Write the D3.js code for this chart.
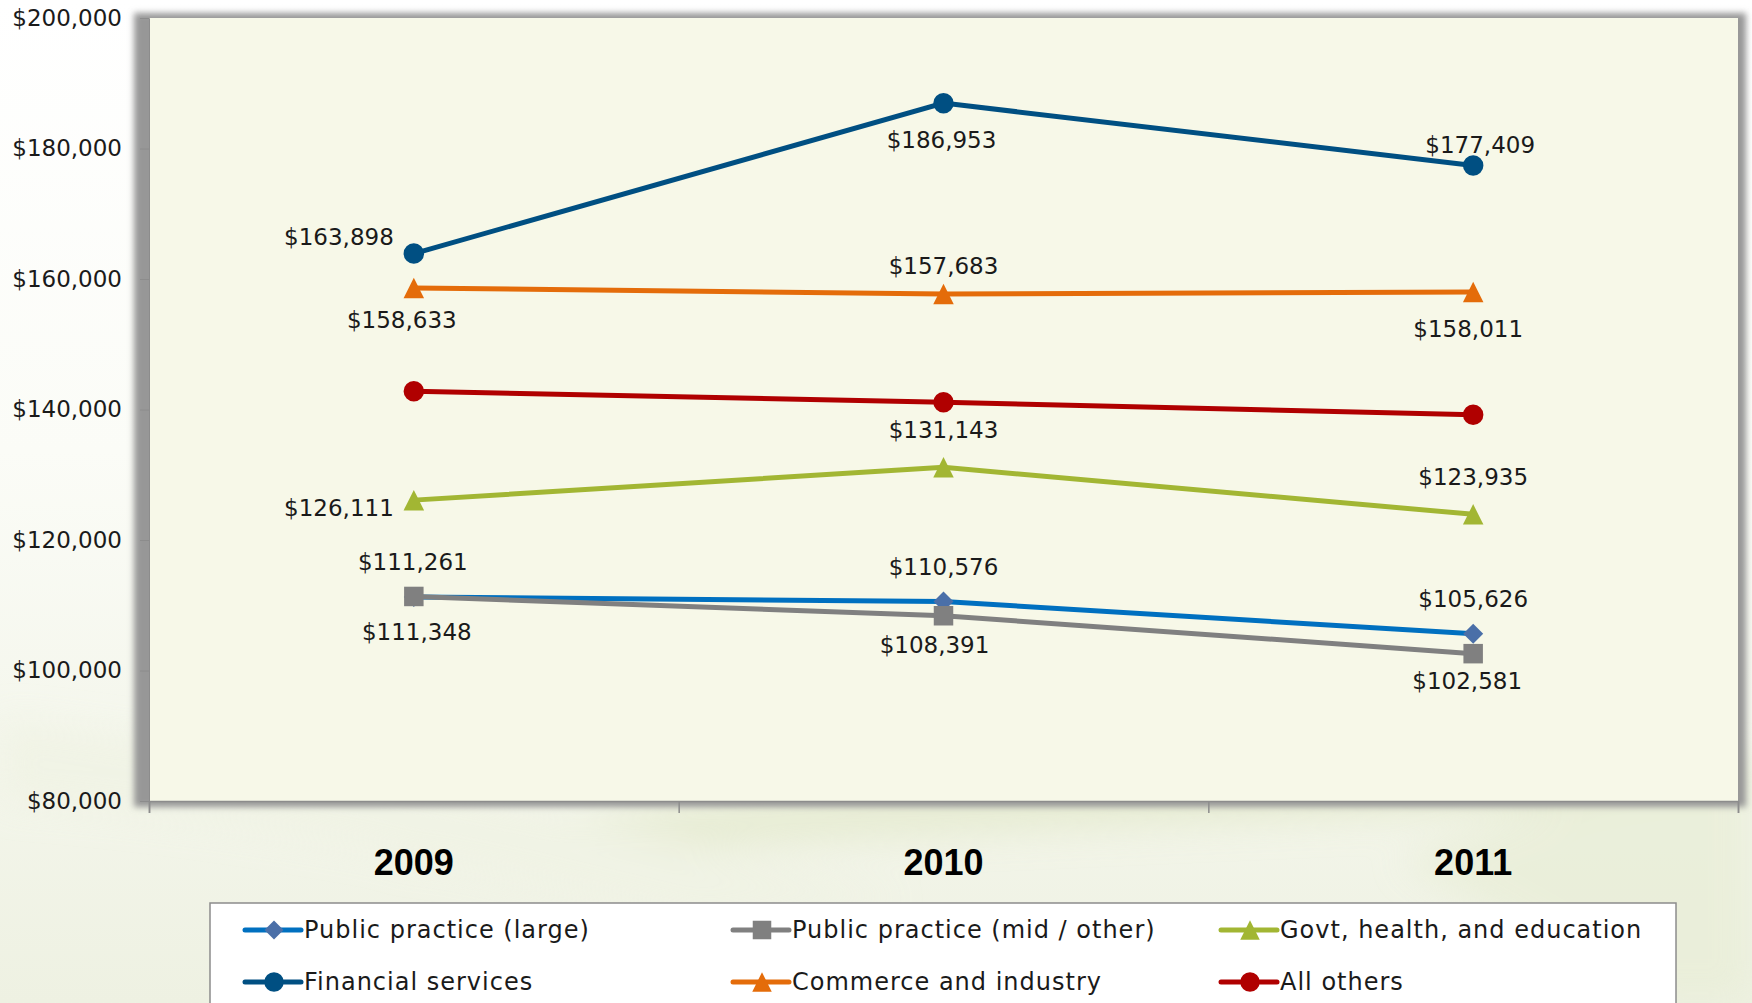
<!DOCTYPE html>
<html>
<head>
<meta charset="utf-8">
<script src="https://cdn.jsdelivr.net/npm/d3@7"></script>
<style>
  html, body { margin: 0; padding: 0; background: #fff; overflow: hidden; }
  svg { display: block; }
  text { font-family: "DejaVu Sans", Lato, sans-serif; }
</style>
</head>
<body>
<div id="chart"></div>
<script>
// data
const years = ['2009', '2010', '2011'];
const seriesNames = [
  'Public practice (large)',
  'Public practice (mid / other)',
  'Govt, health, and education',
  'Financial services',
  'Commerce and industry',
  'All others'
];
const publicLarge = [111261, 110576, 105626];
const publicMid = [111348, 108391, 102581];
const govt = [126111, 131143, 123935];
const financial = [163898, 186953, 177409];
const commerce = [158633, 157683, 158011];
const allOthers = [142800, 141100, 139200];
const yTicks = [80000, 100000, 120000, 140000, 160000, 180000, 200000];

// marker shapes, size = width in px
const diamond = { draw(ctx, s) { const r = s / 2; ctx.moveTo(0, -r); ctx.lineTo(r, 0); ctx.lineTo(0, r); ctx.lineTo(-r, 0); ctx.closePath(); } };
const square = { draw(ctx, s) { const r = s / 2; ctx.rect(-r, -r, s, s); } };
const triangle = { draw(ctx, s) { const r = s / 2; ctx.moveTo(0, -r); ctx.lineTo(r, r); ctx.lineTo(-r, r); ctx.closePath(); } };
const circle = { draw(ctx, s) { const r = s / 2; ctx.moveTo(r, 0); ctx.arc(0, 0, r, 0, 2 * Math.PI); } };

// styling per series (same order as seriesNames)
const lineColors = ['#0070c0', '#808080', '#a2b633', '#004f82', '#e46c0a', '#b00000'];
const markColors = ['#4a6fa8', '#808080', '#a2b633', '#004f82', '#e46c0a', '#b00000'];
const markShapes = [diamond, square, triangle, circle, triangle, circle];
const markSizes = [20, 19.5, 20.5, 20.5, 20.5, 20.5];
const showLabels = [true, true, true, true, true, false];
// label placement [anchor, dx, dy] relative to the point
const labelPlace = [
  [['middle', -1, -35], ['middle', 0, -35], ['middle', 0, -35]],
  [['middle', 3, 35], ['middle', -9, 29], ['middle', -6, 27]],
  [['end', -20, 8], ['middle', 0, -37], ['middle', 0, -37]],
  [['end', -20, -17], ['middle', -2, 37], ['middle', 7, -20]],
  [['middle', -12, 32], ['middle', 0, -28], ['middle', -5, 37]],
  [null, null, null]
];

const allSeries = [publicLarge, publicMid, govt, financial, commerce, allOthers];

const W = 1752, H = 1003;
const plot = { left: 149, top: 18, width: 1589, height: 783 };

const svg = d3.select('#chart').append('svg')
  .attr('width', W)
  .attr('height', H);

const defs = svg.append('defs');
defs.append('filter').attr('id', 'blur8')
  .attr('x', '-50%').attr('y', '-50%').attr('width', '200%').attr('height', '200%')
  .append('feGaussianBlur').attr('stdDeviation', 18);
defs.append('filter').attr('id', 'shadow')
  .attr('x', '-5%').attr('y', '-5%').attr('width', '110%').attr('height', '110%')
  .append('feGaussianBlur').attr('stdDeviation', 3);

const bg = defs.append('linearGradient').attr('id', 'bgGrad')
  .attr('x1', 0).attr('y1', 0).attr('x2', 0).attr('y2', 1);
bg.append('stop').attr('offset', '0%').attr('stop-color', '#ffffff');
bg.append('stop').attr('offset', '45%').attr('stop-color', '#fbfcf7');
bg.append('stop').attr('offset', '100%').attr('stop-color', '#eef1e2');

// page background with soft green swooshes
svg.append('rect').attr('width', W).attr('height', H).attr('fill', 'url(#bgGrad)');
const sw = svg.append('g').attr('filter', 'url(#blur8)').attr('opacity', 0.8);
sw.append('path')
  .attr('d', 'M 400 830 Q 1000 770 1752 760 L 1752 800 Q 1000 830 400 860 Z')
  .attr('fill', '#e3e9cc');
sw.append('path')
  .attr('d', 'M 0 720 Q 500 780 900 900 L 700 920 Q 300 820 0 800 Z')
  .attr('fill', '#f0f3e4');
sw.append('path')
  .attr('d', 'M 1400 860 Q 1600 780 1752 780 L 1752 1003 L 1650 1003 Z')
  .attr('fill', '#e9eed8');

// plot frame shadow + fill
svg.append('rect')
  .attr('x', plot.left - 15).attr('y', plot.top - 5)
  .attr('width', plot.width + 23).attr('height', plot.height + 11)
  .attr('fill', '#979797')
  .attr('filter', 'url(#shadow)');
svg.append('rect')
  .attr('x', plot.left).attr('y', plot.top)
  .attr('width', plot.width).attr('height', plot.height)
  .attr('fill', '#f7f8e8');

const g = svg.append('g').attr('transform', `translate(${plot.left},${plot.top})`);

const x = d3.scaleBand().domain(years).range([0, plot.width]).padding(0);
const xEdge = d3.scaleLinear().domain([0, years.length]).range([0, plot.width]);
const y = d3.scaleLinear().domain([80000, 200000]).range([plot.height, 0]);
const cx = d => x(d) + x.bandwidth() / 2;
const money = v => '$' + d3.format(',')(v);

// y axis
const yAxis = g.append('g')
  .call(d3.axisLeft(y).tickValues(yTicks).tickSize(9).tickPadding(18).tickFormat(money));
yAxis.select('.domain').attr('stroke', '#8c8c8c');
yAxis.selectAll('.tick line').attr('stroke', '#8c8c8c');
yAxis.selectAll('text').attr('font-size', 23).attr('fill', '#1a1a1a')
  .style('font-family', '"DejaVu Sans", sans-serif');

// x axis: ticks on category boundaries
const xAxis = g.append('g')
  .attr('transform', `translate(0,${plot.height})`)
  .call(d3.axisBottom(xEdge).tickValues(d3.range(years.length + 1)).tickSize(12).tickFormat(''));
xAxis.select('.domain').attr('stroke', '#8c8c8c').attr('stroke-width', 1.5);
xAxis.selectAll('.tick line').attr('stroke', '#8c8c8c').attr('stroke-width', 1.5);

g.selectAll('.year').data(years).join('text')
  .attr('class', 'year')
  .attr('x', d => cx(d))
  .attr('y', plot.height + 61)
  .attr('dy', '0.35em')
  .attr('text-anchor', 'middle')
  .attr('font-size', 36)
  .attr('font-weight', 'bold')
  .style('font-family', '"Liberation Sans", Arial, sans-serif')
  .attr('fill', '#000')
  .text(d => d);

const line = d3.line().x((v, i) => cx(years[i])).y(v => y(v));

allSeries.forEach((vals, s) => {
  const sg = g.append('g');
  sg.append('path')
    .attr('d', line(vals))
    .attr('fill', 'none')
    .attr('stroke', lineColors[s])
    .attr('stroke-width', 5);
  sg.selectAll('path.mark').data(vals).join('path')
    .attr('class', 'mark')
    .attr('transform', (v, i) => `translate(${cx(years[i])},${y(v)})`)
    .attr('d', d3.symbol().type(markShapes[s]).size(markSizes[s]))
    .attr('fill', markColors[s]);
});

// data labels on top
allSeries.forEach((vals, s) => {
  if (!showLabels[s]) return;
  g.append('g').selectAll('text').data(vals).join('text')
    .attr('x', (v, i) => cx(years[i]) + labelPlace[s][i][1])
    .attr('y', (v, i) => y(v) + labelPlace[s][i][2])
    .attr('dy', '0.35em')
    .attr('text-anchor', (v, i) => labelPlace[s][i][0])
    .attr('font-size', 23)
    .attr('fill', '#1a1a1a')
    .text(v => money(v));
});

// legend
const legend = svg.append('g');
legend.append('rect')
  .attr('x', 210).attr('y', 903)
  .attr('width', 1466).attr('height', 140)
  .attr('fill', '#fff')
  .attr('stroke', '#8c8c8c')
  .attr('stroke-width', 1.5);
const colX = [245, 733, 1221];
const rowY = [930, 982];
seriesNames.forEach((name, s) => {
  const lx = colX[s % 3], ly = rowY[Math.floor(s / 3)];
  const it = legend.append('g').attr('transform', `translate(${lx},${ly})`);
  it.append('line')
    .attr('x1', 0).attr('x2', 56)
    .attr('stroke', lineColors[s])
    .attr('stroke-width', 5)
    .attr('stroke-linecap', 'round');
  it.append('path')
    .attr('transform', 'translate(29,0)')
    .attr('d', d3.symbol().type(markShapes[s]).size(markSizes[s] * 0.95))
    .attr('fill', markColors[s]);
  it.append('text')
    .attr('x', 59)
    .attr('dy', '0.35em')
    .attr('font-size', 24)
    .attr('letter-spacing', 1)
    .attr('fill', '#1a1a1a')
    .text(name);
});
</script>
</body>
</html>
